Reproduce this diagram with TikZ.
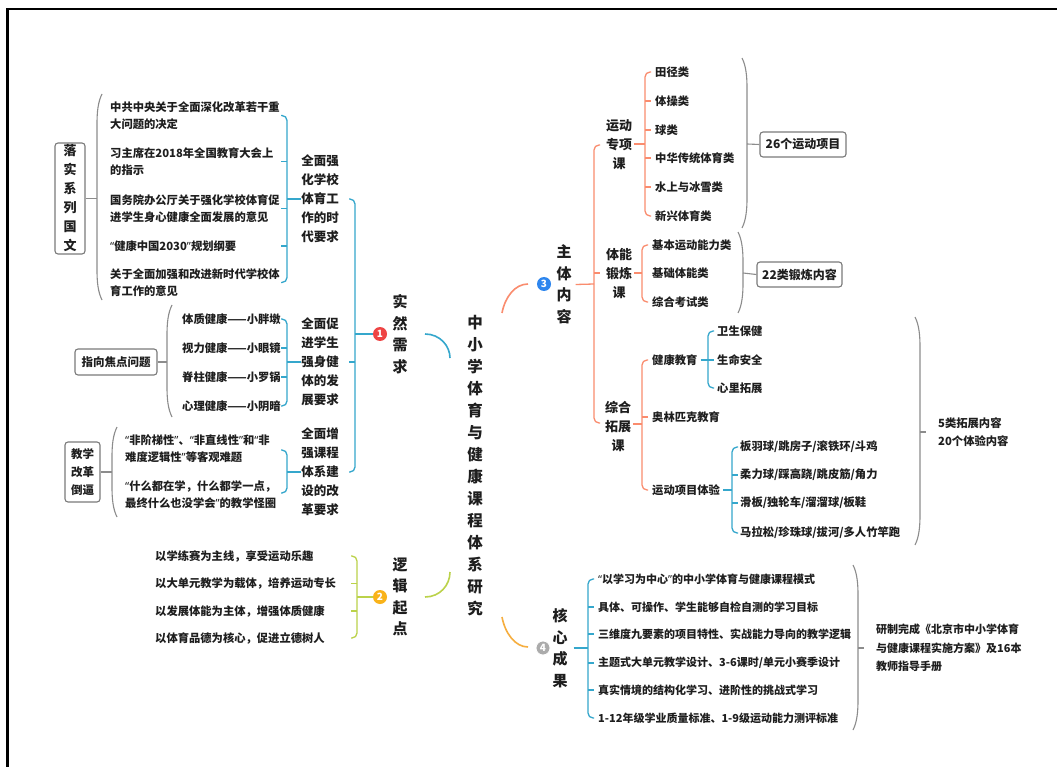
\documentclass[tikz,border=0pt]{standalone}
\usepackage{fontspec}
\setmainfont{Noto Sans CJK SC}
\newfontfamily\latinf{Noto Sans}
\newcommand\oq{{\latinf “}}
\newcommand\cq{{\latinf ”}}
\definecolor{txt}{HTML}{1E1E1E}
\definecolor{bl}{HTML}{35A7CC}
\definecolor{orc}{HTML}{FA8C6E}
\definecolor{grc}{HTML}{BBD24A}
\definecolor{or4}{HTML}{F6AE3F}
\definecolor{gpc}{HTML}{8C8C8C}
\definecolor{boxc}{HTML}{7A7A7A}
\definecolor{cA}{HTML}{EE4444}
\definecolor{cB}{HTML}{F9B31A}
\definecolor{cC}{HTML}{2E86EE}
\definecolor{cD}{HTML}{ABABAB}
\newcommand\lbr[4]{\draw[#1,rounded corners=5] (#2+6,#3) -- (#2,#3) -- (#2,#4) -- (#2+6,#4);}
\newcommand\rbr[4]{\draw[#1,rounded corners=5] (#2-6,#3) -- (#2,#3) -- (#2,#4) -- (#2-6,#4);}
\newcommand\lpar[3]{\draw[gp] (#1+5,#2) .. controls (#1+1,#2+8) and (#1,#2+18) .. (#1,#2+30) -- (#1,#3-30) .. controls (#1,#3-18) and (#1+1,#3-8) .. (#1+5,#3);}
\newcommand\rpar[3]{\draw[gp] (#1-5,#2) .. controls (#1-1,#2+8) and (#1,#2+18) .. (#1,#2+30) -- (#1,#3-30) .. controls (#1,#3-18) and (#1-1,#3-8) .. (#1-5,#3);}
\begin{document}
\begin{tikzpicture}[x=1pt,y=-1pt,
  item/.style={anchor=west,inner sep=0,font=\fontsize{11.3}{17}\selectfont\bfseries,text=txt,align=left},
  sub/.style={inner sep=0,font=\fontsize{12.5}{19}\selectfont\bfseries,text=txt,align=center},
  subb/.style={inner sep=0,font=\fontsize{13}{19}\selectfont\bfseries,text=txt,align=center},
  mainl/.style={inner sep=0,font=\fontsize{15}{21.5}\selectfont\bfseries,text=txt,align=center},
  gbox/.style={draw=boxc,line width=1.1,rounded corners=3,inner sep=0,text=txt,align=center},
  num/.style={circle,inner sep=0,minimum size=14,text=white,font=\fontsize{10}{10}\selectfont\bfseries},
  ln/.style={line width=1.3},
  gp/.style={gpc,line width=1.1},
  mc/.style={line width=1.6}]
\useasboundingbox (0,0) rectangle (1057,767);
\fill[white] (0,0) rectangle (1057,767);
\draw[line width=2.4,black] (7.5,767) -- (7.5,9) -- (1057,9);

% ---------- root ----------
\node[inner sep=0,font=\fontsize{15.5}{22}\selectfont\bfseries,text=txt,align=center] (root) at (475,466)
  {中\\小\\学\\体\\育\\与\\健\\康\\课\\程\\体\\系\\研\\究};

% ---------- branch 1 ----------
\node[num,fill=cA] (n1) at (380,334) {1};
\node[mainl] (b1) at (400,334) {实\\然\\需\\求};
\coordinate (b1s) at (425,334);
\coordinate (b1e) at (450,358);
\draw[bl,mc] (b1s) .. controls (440,334) and (450,346) .. (b1e);

\rbr{bl,ln}{355}{199}{472}
\draw[bl,ln] (355,362) -- (349,362);
\draw[bl,ln] (355,334) -- (n1.west);

\node[sub] (p1) at (320,199) {全面强\\化学校\\体育工\\作的时\\代要求};
\node[sub] (p2) at (320,362) {全面促\\进学生\\强身健\\体的发\\展要求};
\node[sub] (p3) at (320,472) {全面增\\强课程\\体系建\\设的改\\革要求};

% group 1
\node[gbox,minimum width=30,minimum height=111,font=\fontsize{13}{19}\selectfont\bfseries] (g1) at (70,198.5) {落\\实\\系\\列\\国\\文};
\lpar{97}{94}{300}
\draw[gp] (g1.east) -- (97,198.5);
\node[item] (l1) at (110,115.5) {中共中央关于全面深化改革若干重\\大问题的决定};
\node[item] (l2) at (110,161.5) {习主席在2018年全国教育大会上\\的指示};
\node[item] (l3) at (110,208.5) {国务院办公厅关于强化学校体育促\\进学生身心健康全面发展的意见};
\node[item] (l4) at (110,246) {\oq 健康中国2030\cq 规划纲要};
\node[item] (l5) at (110,282.5) {关于全面加强和改进新时代学校体\\育工作的意见};
\rbr{bl,ln}{287}{115.5}{282.5}
\foreach \yy in {161.5,208.5,246} {\draw[bl,ln] (287,\yy) -- (281,\yy);}
\draw[bl,ln] (287,199) -- (p1.west);

% group 2
\node[gbox,minimum width=82,minimum height=26,font=\fontsize{11.5}{14}\selectfont\bfseries] (g2) at (116,362) {指向焦点问题};
\lpar{167}{305}{417}
\draw[gp] (g2.east) -- (167,362);
\node[item] (m1) at (182,319) {体质健康——小胖墩};
\node[item] (m2) at (182,348) {视力健康——小眼镜};
\node[item] (m3) at (182,377) {脊柱健康——小罗锅};
\node[item] (m4) at (182,406) {心理健康——小阴暗};
\rbr{bl,ln}{287}{319}{406}
\foreach \yy in {348,377} {\draw[bl,ln] (287,\yy) -- (281,\yy);}
\draw[bl,ln] (287,362) -- (p2.west);

% group 3
\node[gbox,minimum width=35,minimum height=60,font=\fontsize{11.5}{18}\selectfont\bfseries] (g3) at (82.5,472) {教学\\改革\\倒逼};
\lpar{112}{427}{517}
\draw[gp] (g3.east) -- (112,472);
\node[item] (k1) at (125,448.5) {\oq 非阶梯性\cq 、\oq 非直线性\cq 和\oq 非\\难度逻辑性\cq 等客观难题};
\node[item] (k2) at (125,495) {\oq 什么都在学，什么都学一点，\\最终什么也没学会\cq 的教学怪圈};
\rbr{bl,ln}{287}{450}{493}
\draw[bl,ln] (287,472) -- (p3.west);

% ---------- branch 2 ----------
\node[num,fill=cB] (n2) at (380,597) {2};
\node[mainl] (b2) at (400,597) {逻\\辑\\起\\点};
\coordinate (b2s) at (425,597);
\coordinate (b2e) at (450,572);
\draw[grc,mc] (b2s) .. controls (440,597) and (450,585) .. (b2e);
\rbr{grc,ln}{357}{556}{638}
\foreach \yy in {583.5,611} {\draw[grc,ln] (357,\yy) -- (351,\yy);}
\draw[grc,ln] (357,597) -- (n2.west);
\node[item] (q1) at (155,556) {以学练赛为主线，享受运动乐趣};
\node[item] (q2) at (155,583.5) {以大单元教学为载体，培养运动专长};
\node[item] (q3) at (155,611) {以发展体能为主体，增强体质健康};
\node[item] (q4) at (155,638) {以体育品德为核心，促进立德树人};

% ---------- branch 3 ----------
\coordinate (b3s) at (502,313);
\coordinate (b3e) at (528,284);
\draw[orc,mc] (b3s) .. controls (505,297) and (515,284) .. (b3e);
\node[num,fill=cC] (n3) at (544,284) {3};
\node[mainl] (b3) at (564,284.5) {主\\体\\内\\容};
\lbr{orc,ln}{594}{145}{423}
\draw[orc,ln] (b3.east) ++(4,0) -- (594,284);
\draw[orc,ln] (594,273) -- (600,273);

\node[subb] (s1) at (619,145) {运动\\专项\\课};
\node[subb] (s2) at (619,274) {体能\\锻炼\\课};
\node[subb] (s3) at (618,426) {综合\\拓展\\课};

% s1 children
\draw[orc,ln] (s1.east) ++(2,-1) -- (645,144);
\lbr{orc,ln}{645}{72}{216}
\foreach \yy in {101,130,158,187} {\draw[orc,ln] (645,\yy) -- (651,\yy);}
\node[item] (t1) at (655,72) {田径类};
\node[item] (t2) at (655,101) {体操类};
\node[item] (t3) at (655,130) {球类};
\node[item] (t4) at (655,158) {中华传统体育类};
\node[item] (t5) at (655,187) {水上与冰雪类};
\node[item] (t6) at (655,216) {新兴体育类};
\rpar{747}{58}{228}
\node[gbox,minimum width=86,minimum height=25,font=\fontsize{12}{14}\selectfont\bfseries] (x1) at (803,144.5) {26个运动项目};
\draw[gp] (747,144) -- (x1.west);

% s2 children
\draw[orc,ln] (s2.east) ++(2,-1) -- (642,273);
\lbr{orc,ln}{642}{245}{302}
\node[item] (u1) at (652,245) {基本运动能力类};
\node[item] (u2) at (652,273.5) {基础体能类};
\node[item] (u3) at (652,302) {综合考试类};
\rpar{743}{232}{313}
\node[gbox,minimum width=85,minimum height=25,font=\fontsize{12}{14}\selectfont\bfseries] (x2) at (799.5,274.5) {22类锻炼内容};
\draw[gp] (743,273) -- (x2.west);

% s3 children
\draw[orc,ln] (s3.east) ++(2,-2) -- (642,424);
\lbr{orc,ln}{642}{360}{490}
\draw[orc,ln] (642,417) -- (648,417);
\node[item] (v1) at (652,360) {健康教育};
\node[item] (v2) at (652,417) {奥林匹克教育};
\node[item] (v3) at (652,490) {运动项目体验};
\draw[bl,ln] (v1.east) ++(3,0) -- (708,360);
\lbr{bl,ln}{708}{331}{388}
\draw[bl,ln] (708,360) -- (714,360);
\node[item] (w1) at (717,331) {卫生保健};
\node[item] (w2) at (717,360) {生命安全};
\node[item] (w3) at (717,388) {心里拓展};
\draw[bl,ln] (v3.east) ++(3,0) -- (732,490);
\lbr{bl,ln}{732}{447}{533}
\foreach \yy in {475,503} {\draw[bl,ln] (732,\yy) -- (738,\yy);}
\node[item] (z1) at (740,447) {板羽球/跳房子/滚铁环/斗鸡};
\node[item] (z2) at (740,475) {柔力球/踩高跷/跳皮筋/角力};
\node[item] (z3) at (740,503) {滑板/独轮车/溜溜球/板鞋};
\node[item] (z4) at (740,533) {马拉松/珍珠球/拔河/多人竹竿跑};
\rpar{920}{317}{545}
\node[item,font=\fontsize{11.3}{18}\selectfont\bfseries] (x3) at (938,432) {5类拓展内容\\20个体验内容};
\draw[gp] (920,432) -- (926,432);

% ---------- branch 4 ----------
\coordinate (b4s) at (502,617);
\coordinate (b4e) at (528,647);
\draw[or4,mc] (b4s) .. controls (505,633) and (515,647) .. (b4e);
\node[num,fill=cD,draw=white,line width=0.8] (n4) at (543,648) {4};
\node[mainl] (b4) at (560,648) {核\\心\\成\\果};
\draw[bl,ln] (b4.east) ++(6,0) -- (588,648);
\lbr{bl,ln}{588}{579}{718}
\foreach \yy in {607,634,663,690} {\draw[bl,ln] (588,\yy) -- (594,\yy);}
\node[item,font=\fontsize{11}{17}\selectfont\bfseries] (y1) at (598,579) {\oq 以学习为中心\cq 的中小学体育与健康课程模式};
\node[item,font=\fontsize{11}{17}\selectfont\bfseries] (y2) at (598,607) {具体、可操作、学生能够自检自测的学习目标};
\node[item,font=\fontsize{11}{17}\selectfont\bfseries] (y3) at (598,634) {三维度九要素的项目特性、实战能力导向的教学逻辑};
\node[item,font=\fontsize{11}{17}\selectfont\bfseries] (y4) at (598,663) {主题式大单元教学设计、3-6课时/单元小赛季设计};
\node[item,font=\fontsize{11}{17}\selectfont\bfseries] (y5) at (598,690) {真实情境的结构化学习、进阶性的挑战式学习};
\node[item,font=\fontsize{11}{17}\selectfont\bfseries] (y6) at (598,718) {1-12年级学业质量标准、1-9级运动能力测评标准};
\rpar{858}{565}{730}
\node[item,font=\fontsize{11}{18.5}\selectfont\bfseries] (x4) at (876,648) {研制完成《北京市中小学体育\\与健康课程实施方案》及16本\\教师指导手册};
\draw[gp] (858,648) -- (864,648);
\end{tikzpicture}
\end{document}
